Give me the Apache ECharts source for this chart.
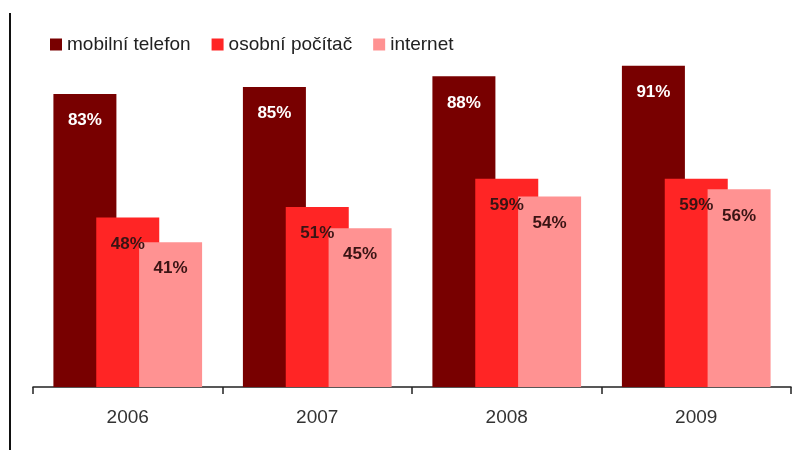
<!DOCTYPE html>
<html>
<head>
<meta charset="utf-8">
<script src="https://cdn.jsdelivr.net/npm/echarts@6/dist/echarts.min.js"></script>
<style>
  html, body { margin: 0; padding: 0; background: #fff; }
  #chart { width: 800px; height: 450px; }
</style>
</head>
<body>
<div id="chart"></div>
<script>
// Years on the category axis
const years = ['2006', '2007', '2008', '2009'];
// Shares (%) per device
const mobilniTelefon = [83, 85, 88, 91];
const osobniPocitac = [48, 51, 59, 59];
const internet = [41, 45, 54, 56];

const seriesNames = ['mobilní telefon', 'osobní počítač', 'internet'];
const seriesColors = ['#780000', '#ff2525', '#ff9292'];
const labelColors = ['#ffffff', '#3a1414', '#3a1414'];
const seriesData = [mobilniTelefon, osobniPocitac, internet];

const FONT = "'Liberation Sans', Arial, sans-serif";

const chart = echarts.init(document.getElementById('chart'), null, { renderer: 'canvas' });

chart.setOption({
  animation: false,
  backgroundColor: '#ffffff',
  textStyle: { fontFamily: FONT },
  legend: {
    left: 45,
    top: 30,
    icon: 'rect',
    itemWidth: 12,
    itemHeight: 12,
    itemGap: 21,
    textStyle: { fontFamily: FONT, fontSize: 19, color: '#222' },
    data: seriesNames
  },
  grid: { left: 33, right: 9, top: 34, bottom: 63 },
  xAxis: {
    type: 'category',
    data: years,
    axisLine: { lineStyle: { color: '#222', width: 1.5 } },
    axisTick: { show: true, length: 7, lineStyle: { color: '#222', width: 1.5 } },
    axisLabel: { fontFamily: FONT, fontSize: 19, color: '#333', margin: 21 }
  },
  yAxis: {
    type: 'value',
    min: 0,
    max: 100,
    show: false,
    splitLine: { show: false }
  },
  series: seriesData.map((values, i) => ({
    name: seriesNames[i],
    type: 'bar',
    data: values,
    barWidth: 63,
    barGap: '-32%',
    itemStyle: { color: seriesColors[i] },
    label: {
      show: true,
      position: 'insideTop',
      distance: 18,
      formatter: '{c}%',
      fontFamily: FONT,
      fontSize: 17,
      fontWeight: 'bold',
      color: labelColors[i]
    }
  })),
  graphic: [
    {
      type: 'line',
      shape: { x1: 10, y1: 13, x2: 10, y2: 450 },
      style: { stroke: '#111', lineWidth: 2 }
    }
  ]
});
</script>
</body>
</html>
